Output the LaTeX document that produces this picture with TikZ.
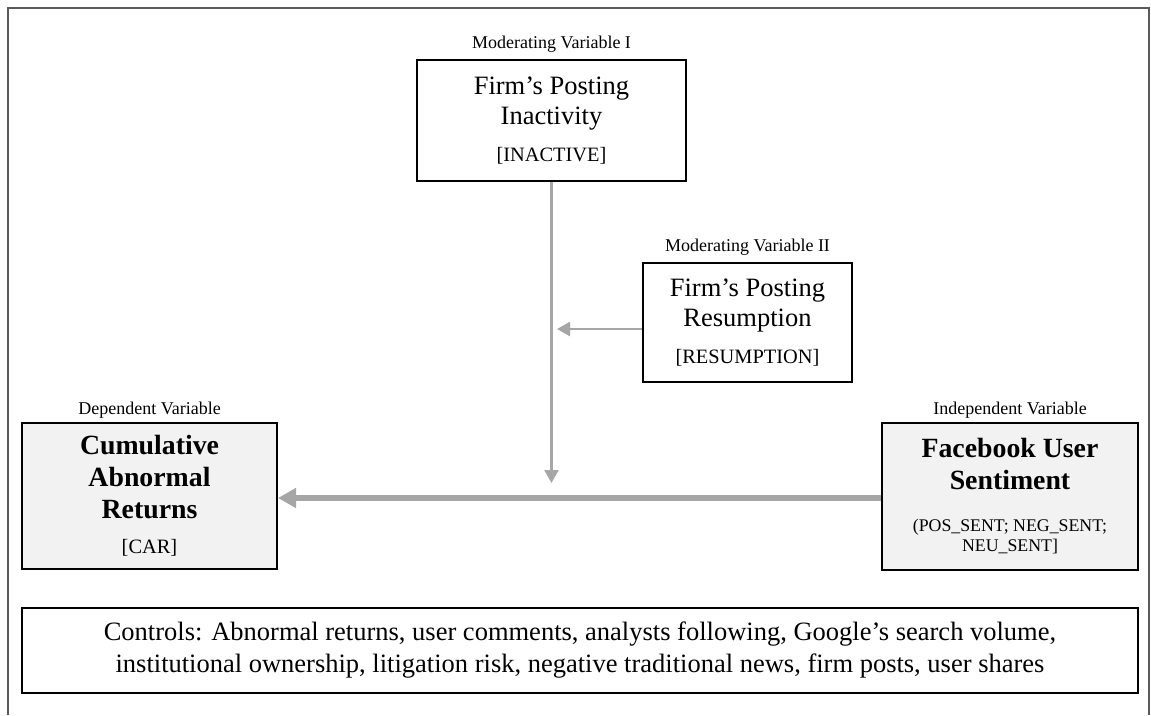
\documentclass[tikz,border=0pt]{standalone}
\usepackage{fontspec}
\setmainfont{Liberation Serif}
\usetikzlibrary{arrows.meta}
\definecolor{linkgray}{HTML}{A6A6A6}
\definecolor{boxfill}{HTML}{F2F2F2}
\definecolor{framegray}{HTML}{5A5A5A}
\tikzset{
  varbox/.style={draw=black, line width=2pt, align=center, inner sep=0pt},
  modbox/.style={varbox, font=\fontsize{26.5}{30}\selectfont},
  depbox/.style={varbox, fill=boxfill, font=\fontsize{27.8}{32}\selectfont\bfseries},
  roletext/.style={font=\fontsize{18}{20}\selectfont, inner sep=0pt},
  modlink/.style={draw=linkgray, line width=2.5pt, -{Triangle[length=13pt,width=14pt]}},
  mainlink/.style={draw=linkgray, line width=6pt, -{Triangle[length=18pt,width=19pt]}}
}
\newcommand{\codefnt}{\fontsize{20.4}{22}\selectfont\mdseries}

\begin{document}
\begin{tikzpicture}[x=1pt, y=-1pt]
\useasboundingbox (0,0) rectangle (1151,715);
\draw[framegray, line width=2pt] (8,715) -- (8,8) -- (1149,8) -- (1149,715);

% variables
\node[modbox, minimum width=269pt, minimum height=121pt] (inactive) at (551.5,120.5)
  {Firm's Posting\\ Inactivity\\[7pt] \codefnt [INACTIVE]};
\node[modbox, minimum width=209pt, minimum height=119pt] (resumption) at (747.5,322.5)
  {Firm's Posting\\ Resumption\\[7pt] \codefnt [RESUMPTION]};
\node[depbox, minimum width=255pt, minimum height=146pt] (car) at (149.5,496)
  {Cumulative\\ Abnormal\\ Returns\\[3pt] \codefnt [CAR]};
\node[depbox, minimum width=256pt, minimum height=147pt] (sentiment) at (1010,496.5)
  {Facebook User\\ Sentiment\\[10pt] \fontsize{17.8}{19}\selectfont\mdseries (POS\_SENT; NEG\_SENT;\\[-12pt]
   \fontsize{17.8}{19}\selectfont\mdseries NEU\_SENT]};
\node[varbox, minimum width=1116pt, minimum height=85pt, font=\fontsize{26.5}{32}\selectfont] (controls) at (580,650.5)
  {Controls: Abnormal returns, user comments, analysts following, Google's search volume,\\
   institutional ownership, litigation risk, negative traditional news, firm posts, user shares};

% roles
\node[roletext, anchor=base] (inactivelbl) at (551.5,48) {Moderating Variable I};
\node[roletext, anchor=base] (resumptionlbl) at (747.5,251) {Moderating Variable II};
\node[roletext, anchor=base] (carlbl) at (149.5,414) {Dependent Variable};
\node[roletext, anchor=base] (sentimentlbl) at (1010,414) {Independent Variable};

% links
\coordinate (modend) at (551.5,483);
\coordinate (resend) at (557,329);
\draw[mainlink] (sentiment.west |- 0,498) to (car.east |- 0,498);
\draw[modlink] (inactive.south) to (modend);
\draw[modlink] (resumption.west |- resend) to (resend);
\end{tikzpicture}
\end{document}
